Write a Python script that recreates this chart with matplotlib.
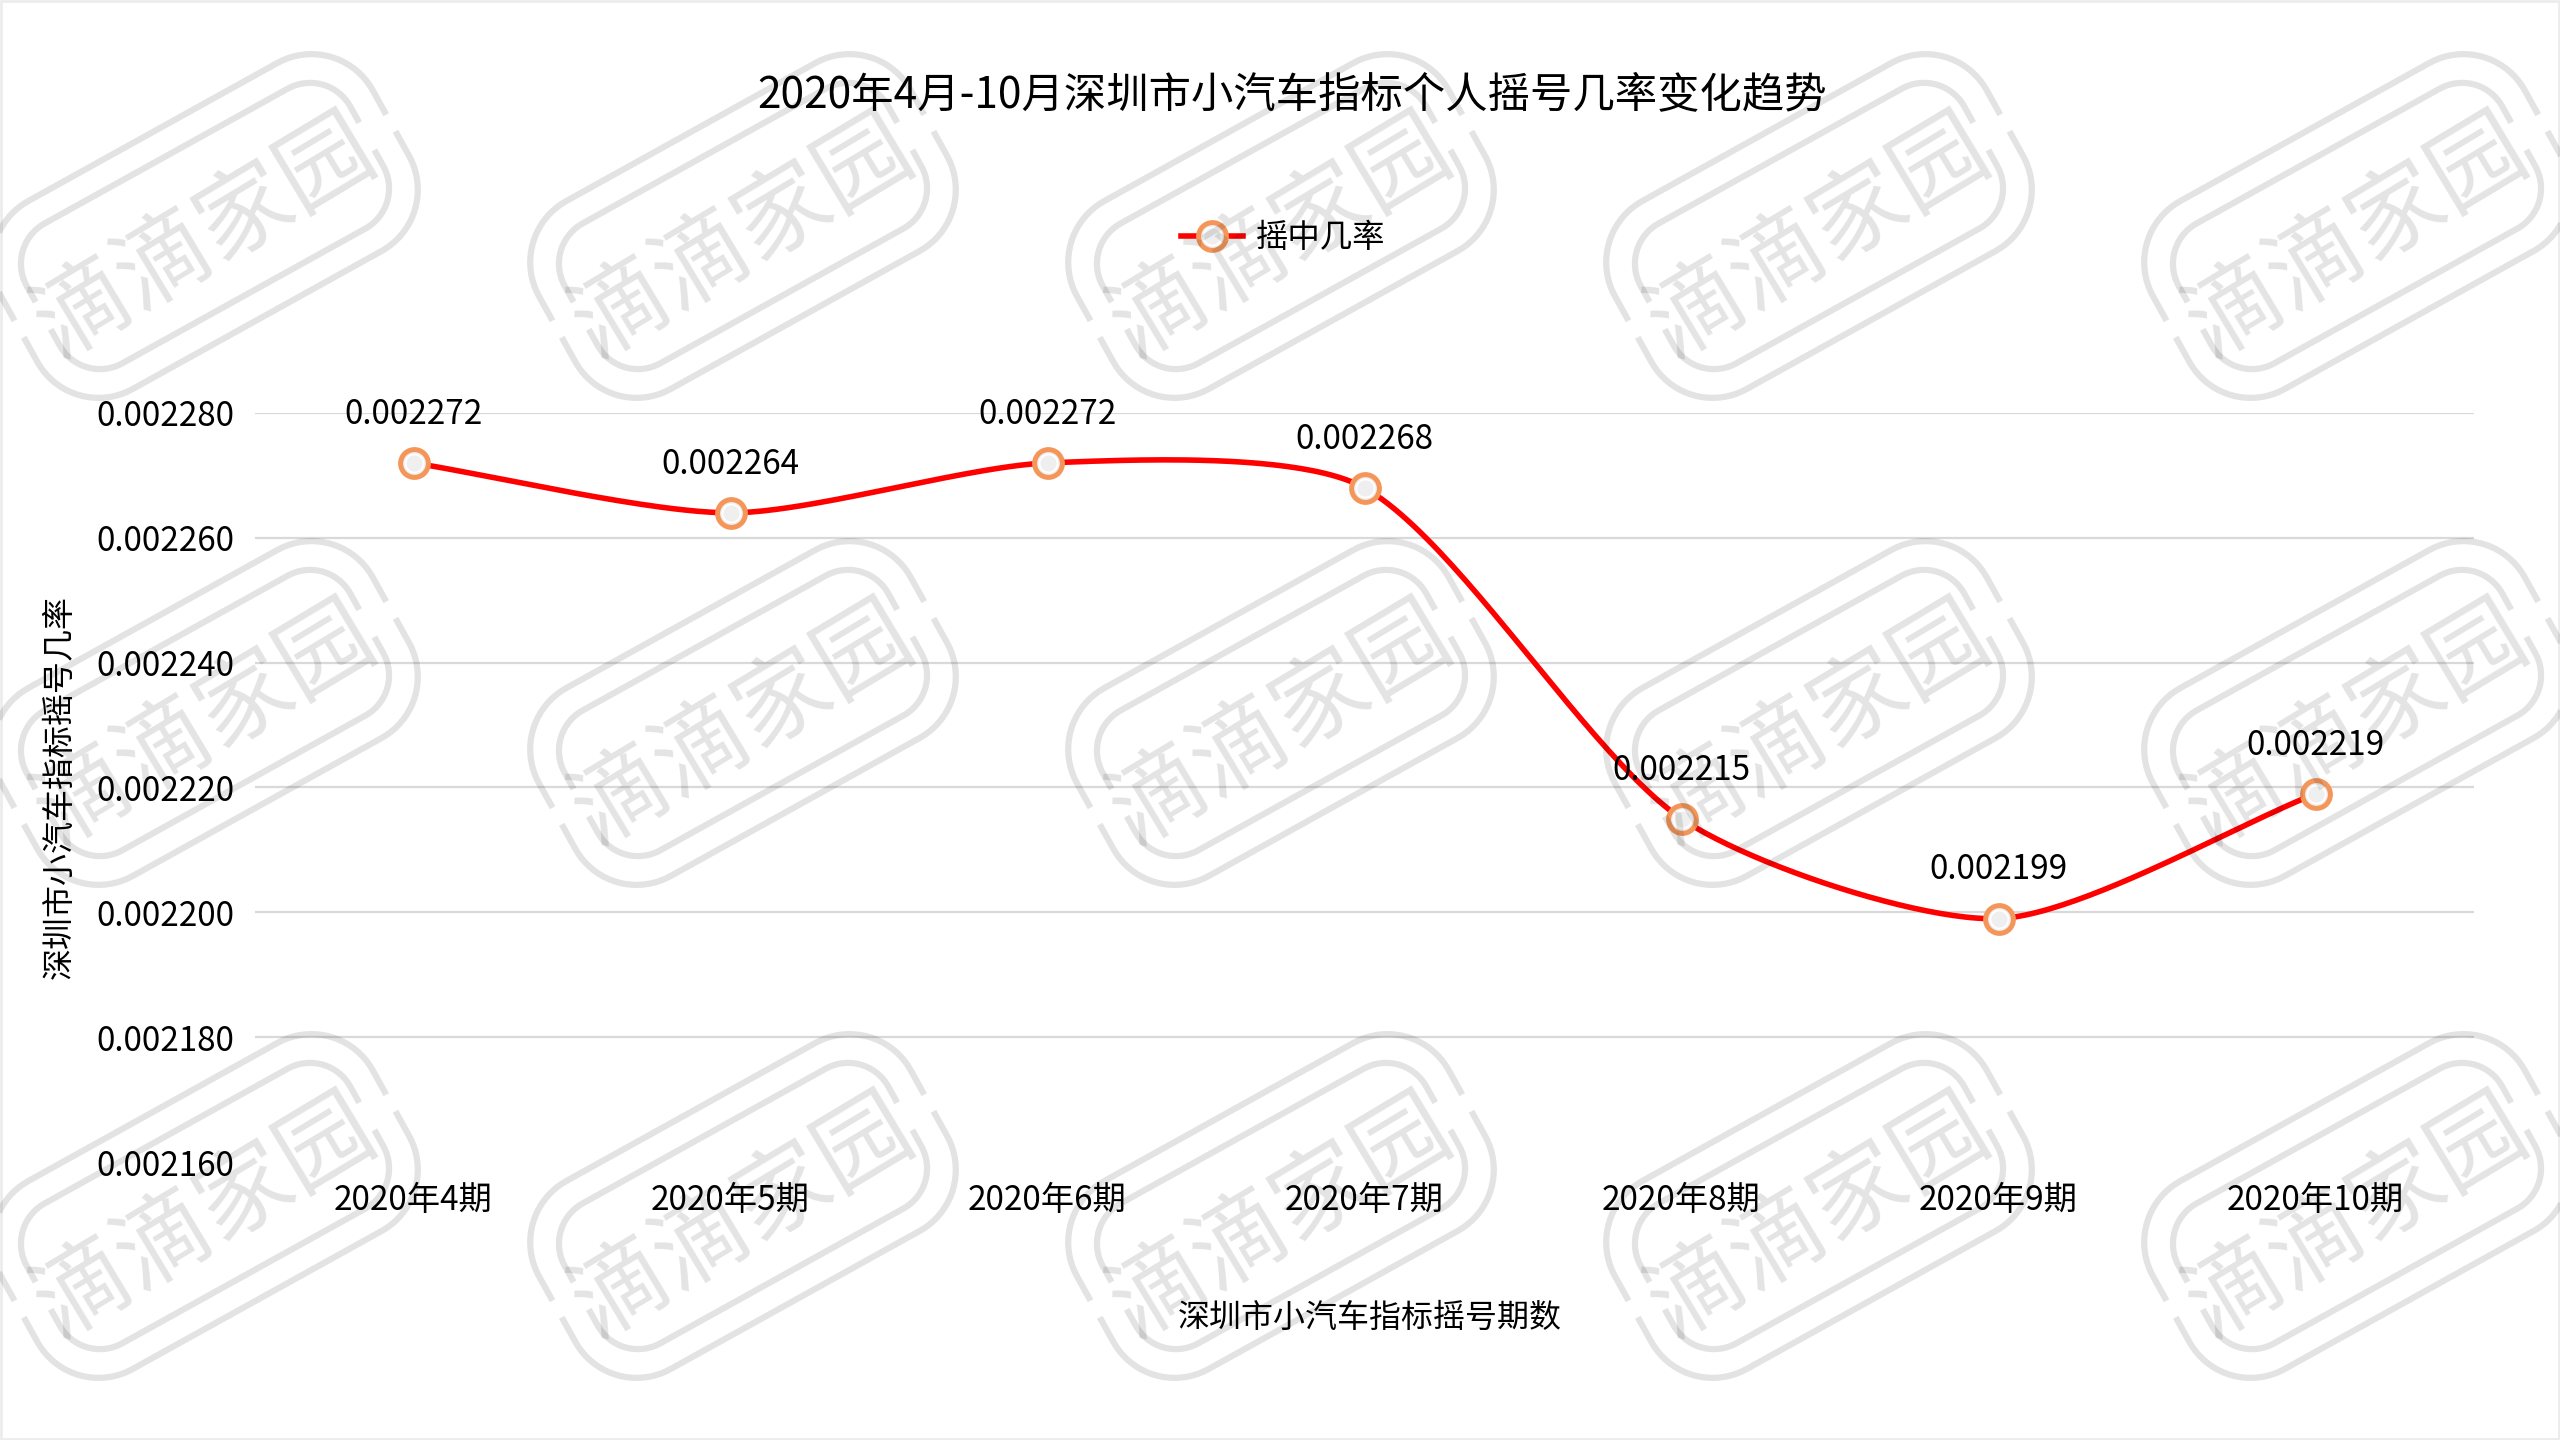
import numpy as np
import matplotlib
matplotlib.use("Agg")
import matplotlib.pyplot as plt
from matplotlib.legend_handler import HandlerTuple
from matplotlib.lines import Line2D
from matplotlib.patches import Rectangle

plt.rcParams['font.family'] = ['Noto Sans CJK SC', 'DejaVu Sans']

periods = ['2020年4期', '2020年5期', '2020年6期', '2020年7期', '2020年8期', '2020年9期', '2020年10期']
rates = [0.002272, 0.002264, 0.002272, 0.002268, 0.002215, 0.002199, 0.002219]
rate_labels = ['0.002272', '0.002264', '0.002272', '0.002268', '0.002215', '0.002199', '0.002219']
y_ticks = [0.00216, 0.00218, 0.00220, 0.00222, 0.00224, 0.00226, 0.00228]

title = '2020年4月-10月深圳市小汽车指标个人摇号几率变化趋势'
series_name = '摇中几率'
x_title = '深圳市小汽车指标摇号期数'
y_title = '深圳市小汽车指标摇号几率'
watermark = '滴滴家园'

W, H = 2560, 1440
AX_L, AX_R, AX_T, AX_B = 255, 2474, 413, 1162


def smooth(xs, ys, kx, ky, tension=0.25, steps=50):
    # excel style smoothed line: bezier segments, control arms weighted by segment length (in pixels)
    p = np.column_stack([np.asarray(xs, float) * kx, np.asarray(ys, float) * ky])
    n = len(p)
    d = np.hypot(*np.diff(p, axis=0).T)
    t = np.linspace(0, 1, steps)[:, None]
    pts = []
    for i in range(n - 1):
        a, b = p[i], p[i + 1]
        pa = p[i - 1] if i > 0 else a
        pb = p[i + 2] if i + 2 < n else b
        da = d[i - 1] if i > 0 else 0.0
        db = d[i + 1] if i + 2 < n else 0.0
        c1 = a + (b - pa) * d[i] / (da + d[i]) * tension
        c2 = b - (pb - a) * d[i] / (d[i] + db) * tension
        pts.append((1 - t) ** 3 * a + 3 * (1 - t) ** 2 * t * c1 + 3 * (1 - t) * t ** 2 * c2 + t ** 3 * b)
    pts = np.vstack(pts)
    return pts[:, 0] / kx, pts[:, 1] / ky


def frame_pieces(cx, cy, length, height, r, ang):
    # two open bracket halves of a rounded rectangle (the watermark logo frame)
    a, b = length / 2, height / 2
    th = np.linspace(0, np.pi / 2, 20)
    left = np.column_stack([-a + r - r * np.cos(th), b - r + r * np.sin(th)])
    right = np.column_stack([a - r + r * np.sin(th), b - r + r * np.cos(th)])
    top = np.vstack([[[-a, b - r - 0.4 * r]], left, right, [[a, b - r - 0.4 * r]]])
    bottom = -top
    rad = np.deg2rad(ang)
    rot = np.array([[np.cos(rad), -np.sin(rad)], [np.sin(rad), np.cos(rad)]])
    out = []
    for piece in (top, bottom):
        q = piece @ rot.T
        out.append((q[:, 0] + cx, q[:, 1] + (H - cy)))
    return out


fig = plt.figure(figsize=(25.6, 14.4), dpi=100)
ax = fig.add_axes([AX_L / W, 1 - AX_B / H, (AX_R - AX_L) / W, (AX_B - AX_T) / H])

x = np.arange(len(periods))
kx = (AX_R - AX_L) / len(periods)
ky = (AX_B - AX_T) / (y_ticks[-1] - y_ticks[0])
sx, sy = smooth(x, rates, kx, ky)
ax.plot(sx, sy, color='#FF0000', lw=4.0, solid_capstyle='round', zorder=3)
dots, = ax.plot(x, rates, ls='none', marker='o', ms=20, mfc='#EFEFEF', mec='#F4965A', mew=3.6, zorder=4)
ring, = ax.plot(x, rates, ls='none', marker='o', ms=13, mfc='none', mec='white', mew=1.3, zorder=5)

for xi, yi, lab in zip(x, rates, rate_labels):
    ax.annotate(lab, (xi, yi), xytext=(0, 35), textcoords='offset points',
                ha='center', va='center', fontsize=24, color='black', zorder=6)

ax.set_xlim(-0.5, len(periods) - 0.5)
ax.set_ylim(y_ticks[0], y_ticks[-1])
ax.set_xticks(x)
ax.set_xticklabels(periods, fontsize=24)
ax.set_yticks(y_ticks)
ax.set_yticklabels(['%.6f' % v for v in y_ticks], fontsize=24)
ax.tick_params(length=0)
ax.tick_params(axis='x', pad=15)
ax.tick_params(axis='y', pad=15)
for s in ax.spines.values():
    s.set_visible(False)
ax.grid(axis='y', color='#D9D9D9', lw=1.6)
ax.yaxis.get_gridlines()[0].set_visible(False)
ax.set_axisbelow(True)

fig.text(1292 / W, 1 - 95 / H, title, ha='center', va='center', fontsize=30.5)
fig.text(1370 / W, 1 - 1318 / H, x_title, ha='center', va='center', fontsize=23)
fig.text(60 / W, 1 - 787 / H, y_title, ha='center', va='center', rotation=90, fontsize=23)

legend_line, = ax.plot([], [], color='#FF0000', lw=4.0, marker='o', ms=20, mfc='#EFEFEF', mec='#F4965A', mew=3.6)
ax.legend([(legend_line, ring)], [series_name], handler_map={tuple: HandlerTuple(ndivide=1)},
          loc='center', bbox_to_anchor=(1283 / W, 1 - 238 / H), bbox_transform=fig.transFigure,
          frameon=False, fontsize=23.3, handlelength=1.9, handletextpad=0.4)

# watermark grid
wm_color = '#000000'
wm_alpha = 0.11
for cy in [238, 725, 1218]:
    for cx in [205, 743, 1281, 1819, 2357]:
        fig.text(cx / W, 1 - cy / H, watermark, ha='center', va='center', rotation=31,
                 fontsize=68, color=wm_color, alpha=wm_alpha, weight='light', zorder=10)
        for L, Hh, r in [(425, 215, 70), (370, 160, 46)]:
            for px, py in frame_pieces(cx, cy - 12, L, Hh, r, 29):
                fig.add_artist(Line2D(px / W, py / H, transform=fig.transFigure, color=wm_color,
                                      alpha=wm_alpha, lw=4.5, solid_capstyle='butt', zorder=10))

# faint chart border
fig.add_artist(Rectangle((0.0005, 0.001), 0.999, 0.998, transform=fig.transFigure,
                         fill=False, ec='#ECECEC', lw=2))

fig.savefig('out.png', dpi=100, facecolor='white')
